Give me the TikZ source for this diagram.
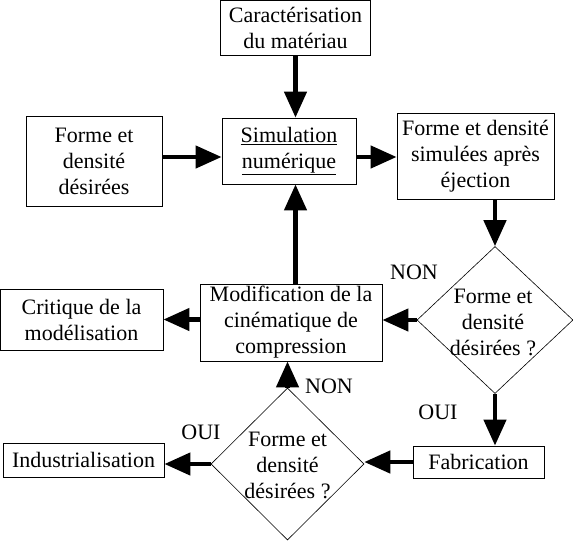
\documentclass[tikz,border=0pt]{standalone}
\usepackage{fontspec}
\setmainfont{Liberation Serif}
\usetikzlibrary{arrows.meta}
\usetikzlibrary{shapes.geometric}

\tikzset{
  boite/.style={draw, line width=0.8pt, align=center, inner sep=0pt, font=\fontsize{22}{26}\selectfont},
  losange/.style={diamond, draw, line width=0.6pt, inner sep=0pt},
  fleche/.style={line width=4.5pt, -{Triangle[length=26pt,width=22pt]}},
  rep/.style={align=center, inner sep=0pt, font=\fontsize{22}{26}\selectfont}
}

\begin{document}
\begin{tikzpicture}[x=1pt,y=-1pt]

\useasboundingbox (0,0) rectangle (573,542);

\coordinate (r1) at (0,157);

\node[boite, minimum width=150pt, minimum height=55pt] (cara) at (295.5,27.5) {Caractérisation\\du matériau};
\node[boite, minimum width=136pt, minimum height=90pt] (forme) at (94,161) {Forme et\\densité\\désirées};
\node[boite, minimum width=134pt, minimum height=66pt] (simu) at (289,151) {\underline{Simulation}\\\underline{numérique}};
\node[boite, minimum width=157pt, minimum height=86pt] (simres) at (475.5,156) {Forme et densité\\simulées après\\éjection};
\node[losange, minimum width=156pt, minimum height=147pt] (test1) at (495,320) {};
\node[rep] (test1txt) at (493,322) {Forme et\\densité\\désirées ?};
\node[boite, minimum width=182pt, minimum height=77pt] (modif) at (291,322.5) {Modification de la\\cinématique de\\compression};
\node[boite, minimum width=163pt, minimum height=61pt] (crit) at (81.5,319.5) {Critique de la\\modélisation};
\node[boite, minimum width=131pt, minimum height=32pt] (fab) at (478.5,462) {Fabrication};
\node[losange, minimum width=153pt, minimum height=152pt] (test2) at (287.5,464) {};
\node[rep] (test2txt) at (287.5,465) {Forme et\\densité\\désirées ?};
\node[boite, minimum width=161pt, minimum height=34pt] (indus) at (83.5,460) {Industrialisation};

\node[rep] (non1) at (414,272) {NON};
\node[rep] (oui1) at (438,412) {OUI};
\node[rep] (non2) at (329,386) {NON};
\node[rep] (oui2) at (201,432) {OUI};

\draw[fleche] (cara.south) -- (cara.south |- simu.north);
\draw[fleche] (forme.east |- r1) -- (simu.west |- r1);
\draw[fleche] (simu.east |- r1) -- (simres.west |- r1);
\draw[fleche] (simres.south -| test1) -- (test1.north);
\draw[fleche] (test1.west) -- (test1.west -| modif.east);
\draw[fleche] (modif.west |- crit) -- (crit.east);
\draw[fleche] (modif.north -| cara) -- (simu.south -| cara);
\draw[fleche] (test1.south) -- (test1.south |- fab.north);
\draw[fleche] (fab.west) -- (fab.west -| test2.east);
\draw[fleche] (test2.north) -- (test2.north |- modif.south);
\draw[fleche] (test2.west) -- (test2.west -| indus.east);

\end{tikzpicture}
\end{document}
